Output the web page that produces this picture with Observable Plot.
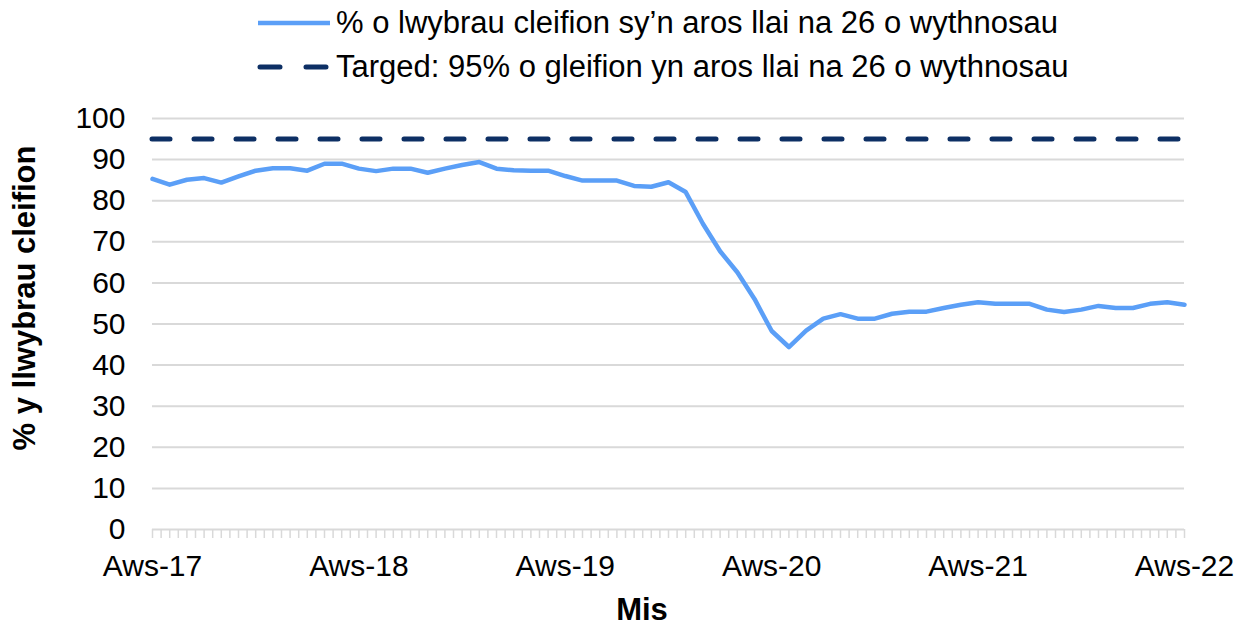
<!DOCTYPE html>
<html>
<head>
<meta charset="utf-8">
<script src="https://cdn.jsdelivr.net/npm/d3@7"></script>
<script src="https://cdn.jsdelivr.net/npm/@observablehq/plot@0.6"></script>
<style>
  html, body { margin: 0; padding: 0; background: #fff; }
  #wrap { position: relative; width: 1246px; height: 626px; font-family: "Liberation Sans", Arial, sans-serif; color: #000; }
  #chart { position: absolute; left: 0; top: 0; }
  .leg { position: absolute; left: 256px; display: flex; align-items: center; font-size: 31px; white-space: nowrap; }
  .leg svg { margin-right: 4px; }
  .title { position: absolute; font-weight: bold; font-size: 31px; white-space: nowrap; }
</style>
</head>
<body>
<div id="wrap">
  <div id="chart"></div>
  <div class="leg" style="top:5px;"><svg width="76" height="10"><line x1="2" y1="5" x2="74" y2="5" stroke="#5B9FF7" stroke-width="4.5"/></svg><span id="s1"></span></div>
  <div class="leg" style="top:49px;"><svg width="76" height="10"><line x1="4" y1="5" x2="74" y2="5" stroke="#0D2F64" stroke-width="5" stroke-dasharray="20,26" stroke-linecap="round"/></svg><span id="s2"></span></div>
  <div class="title" id="ytitle" style="left:25px; top:298px; transform: translate(-50%,-50%) rotate(-90deg);"></div>
  <div class="title" id="xtitle" style="left:642px; top:610px; transform: translate(-50%,-50%);"></div>
</div>
<script>
// Monthly values, Aug 2017 .. Aug 2022
const seriesName = "% o lwybrau cleifion sy’n aros llai na 26 o wythnosau";
const targetName = "Targed: 95% o gleifion yn aros llai na 26 o wythnosau";
const values = [
  85.3, 83.9, 85.1, 85.5, 84.4, 85.9, 87.3, 87.9, 87.9, 87.3,
  89.0, 89.0, 87.8, 87.2, 87.8, 87.8, 86.8, 87.8, 88.7, 89.4,
  87.8, 87.4, 87.3, 87.3, 86.0, 84.9, 84.9, 84.9, 83.6, 83.4,
  84.5, 82.1, 74.4, 67.7, 62.6, 56.1, 48.3, 44.4, 48.4, 51.3,
  52.4, 51.3, 51.3, 52.5, 53.0, 53.0, 53.9, 54.7, 55.3, 54.9,
  54.9, 54.9, 53.5, 52.9, 53.5, 54.4, 53.9, 53.9, 54.9, 55.3,
  54.7
];
const target = 95;
const xTickLabels = ["Aws-17", "Aws-18", "Aws-19", "Aws-20", "Aws-21", "Aws-22"];
const yTicks = [0, 10, 20, 30, 40, 50, 60, 70, 80, 90, 100];
const yTitle = "% y llwybrau cleifion";
const xTitle = "Mis";

document.getElementById("s1").textContent = seriesName;
document.getElementById("s2").textContent = targetName;
document.getElementById("ytitle").textContent = yTitle;
document.getElementById("xtitle").textContent = xTitle;

const data = values.map((v, i) => ({i, v}));
const n = values.length;
const majorTicks = xTickLabels.map((_, k) => k * 12);
const minorTicks = d3.range(0, (n - 1) * 2 + 1).map(k => k / 2);

const chart = Plot.plot({
  width: 1246,
  height: 626,
  marginTop: 118,
  marginBottom: 97,
  marginLeft: 152,
  marginRight: 62,
  style: {fontFamily: "Liberation Sans, Arial, sans-serif", color: "#000", background: "#fff"},
  x: {type: "linear", domain: [0, n - 1]},
  y: {domain: [0, 100]},
  marks: [
    Plot.gridY(yTicks, {stroke: "#d9d9d9", strokeOpacity: 1, strokeWidth: 2}),
    Plot.axisY(yTicks, {tickSize: 0, tickPadding: 27, fontSize: 30, label: null}),
    Plot.axisX(minorTicks, {tickSize: 9, stroke: "#d9d9d9", strokeWidth: 1.5, tickFormat: () => "", label: null}),
    Plot.axisX(majorTicks, {tickSize: 0, tickPadding: 25, fontSize: 30, tickFormat: d => xTickLabels[d / 12], label: null}),
    Plot.ruleY([target], {stroke: "#0D2F64", strokeWidth: 5, strokeDasharray: "18,24", strokeLinecap: "round"}),
    Plot.lineY(data, {x: "i", y: "v", stroke: "#5B9FF7", strokeWidth: 4.5, strokeLinejoin: "round"})
  ]
});
document.getElementById("chart").appendChild(chart);
</script>
</body>
</html>
